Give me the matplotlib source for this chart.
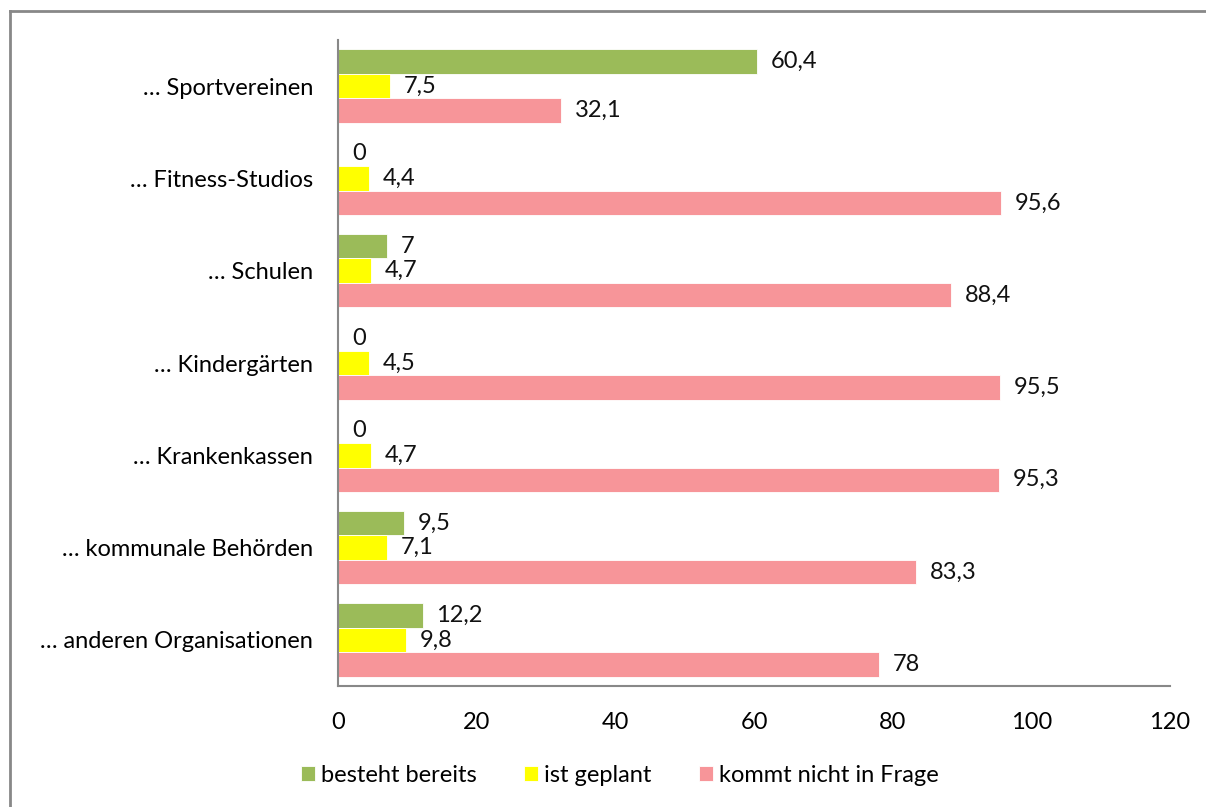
import matplotlib.pyplot as plt
import numpy as np
from matplotlib.lines import Line2D

plt.rcParams["font.family"] = ["Lato", "DejaVu Sans"]

categories = [
    "… Sportvereinen",
    "… Fitness-Studios",
    "… Schulen",
    "… Kindergärten",
    "… Krankenkassen",
    "… kommunale Behörden",
    "… anderen Organisationen",
]
besteht = [60.4, 0, 7, 0, 0, 9.5, 12.2]
geplant = [7.5, 4.4, 4.7, 4.5, 4.7, 7.1, 9.8]
nicht = [32.1, 95.6, 88.4, 95.5, 95.3, 83.3, 78]
labels_besteht = ["60,4", "0", "7", "0", "0", "9,5", "12,2"]
labels_geplant = ["7,5", "4,4", "4,7", "4,5", "4,7", "7,1", "9,8"]
labels_nicht = ["32,1", "95,6", "88,4", "95,5", "95,3", "83,3", "78"]
xticks = [0, 20, 40, 60, 80, 100, 120]

fs = 17

fig = plt.figure(figsize=(12.06, 8.07), dpi=100)
ax = fig.add_axes([338 / 1206, 1 - 686 / 807, (1170 - 338) / 1206, (686 - 40) / 807])

y = np.arange(len(categories))
h = 0.265
series = [
    (besteht, labels_besteht, "#9BBB59", "besteht bereits", -h),
    (geplant, labels_geplant, "#FFFF00", "ist geplant", 0),
    (nicht, labels_nicht, "#F79599", "kommt nicht in Frage", h),
]
for vals, labs, color, name, off in series:
    bars = ax.barh(y + off, vals, height=h, color=color, edgecolor="white",
                   linewidth=0.6, label=name)
    ax.bar_label(bars, labels=labs, padding=10, fontsize=fs, color="#111111")

ax.set_ylim(len(categories) - 0.5, -0.5)
ax.set_xlim(0, 120)
ax.set_yticks(y)
ax.set_yticklabels(categories, fontsize=fs)
ax.set_xticks(xticks)
ax.set_xticklabels([str(t) for t in xticks], fontsize=fs)
ax.tick_params(length=0)
ax.tick_params(axis="x", pad=19)
ax.tick_params(axis="y", pad=18)
for s in ["top", "right"]:
    ax.spines[s].set_visible(False)
for s in ["left", "bottom"]:
    ax.spines[s].set_color("#888888")
    ax.spines[s].set_linewidth(1.5)

ax.legend(loc="center", bbox_to_anchor=(620 / 1206, 1 - 775 / 807),
          bbox_transform=fig.transFigure, ncol=3, frameon=False, fontsize=fs,
          handlelength=0.6, handleheight=0.6, handletextpad=0.25, columnspacing=2.0)

# outer frame (cut off at right and bottom)
fig.add_artist(Line2D([9.5 / 1206, 1], [1 - 10.5 / 807, 1 - 10.5 / 807],
                      transform=fig.transFigure, color="#888888", linewidth=2))
fig.add_artist(Line2D([9.5 / 1206, 9.5 / 1206], [0, 1 - 10.5 / 807],
                      transform=fig.transFigure, color="#888888", linewidth=2))

fig.savefig("out.png", dpi=100)
